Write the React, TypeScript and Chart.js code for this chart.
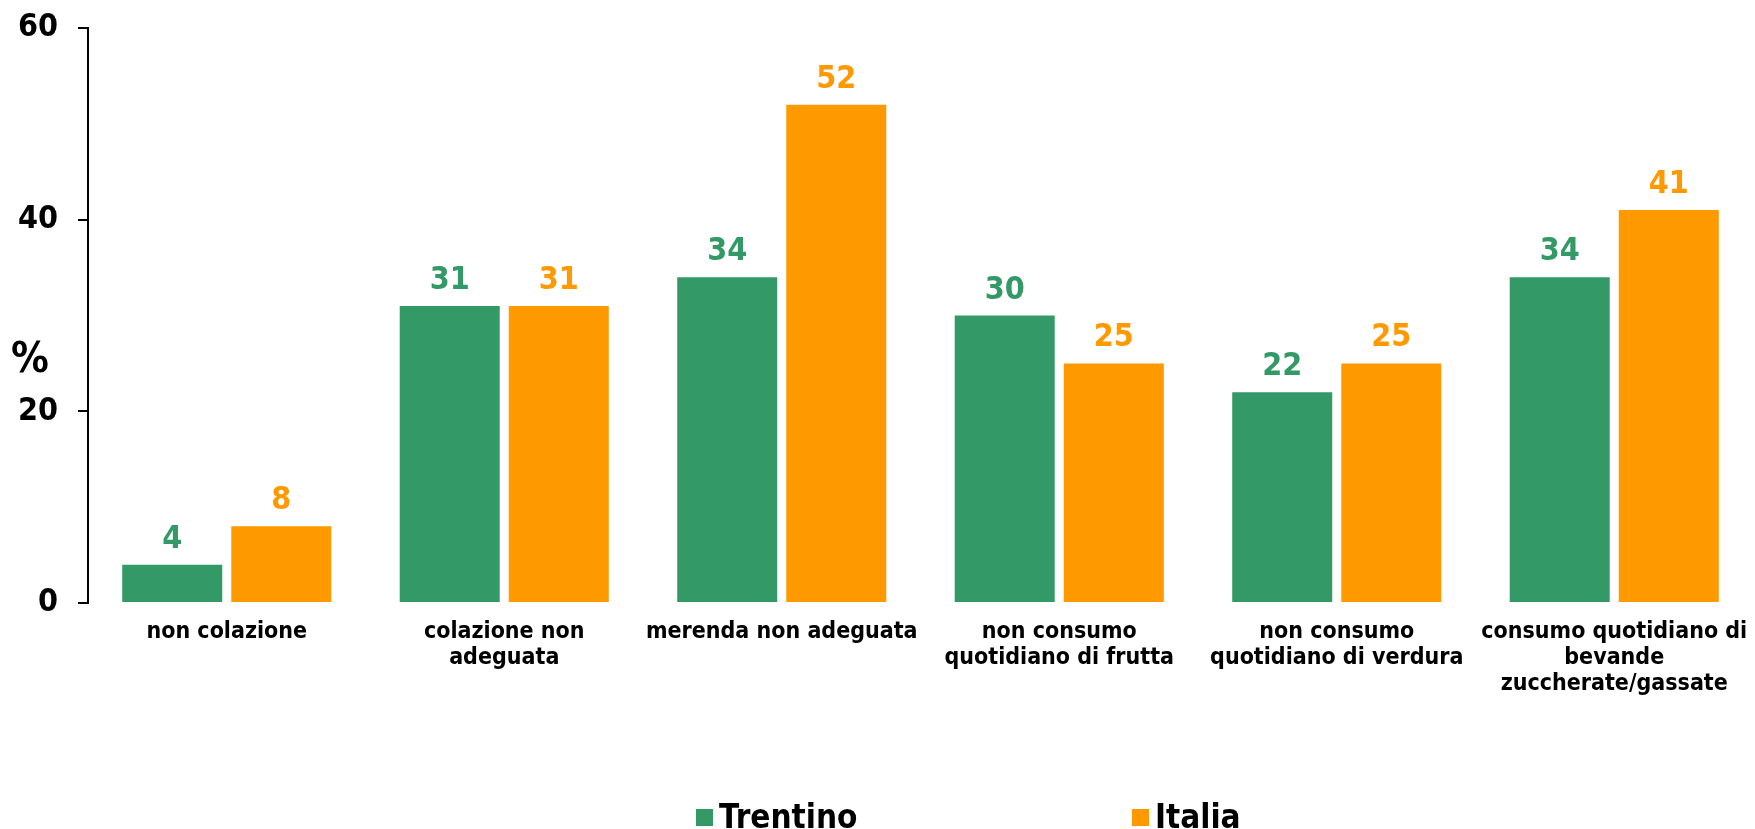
import React, { useEffect, useRef } from "react";
import { Chart, registerables } from "chart.js";

Chart.register(...registerables);

const categories: string[][] = [
  ["non colazione"],
  ["colazione non", "adeguata"],
  ["merenda non adeguata"],
  ["non consumo", "quotidiano di frutta"],
  ["non consumo", "quotidiano di verdura"],
  ["consumo quotidiano di", "bevande", "zuccherate/gassate"],
];
const trentino = [4, 31, 34, 30, 22, 34];
const italia = [8, 31, 52, 25, 25, 41];
const seriesNames = ["Trentino", "Italia"];
const yTicks = [0, 20, 40, 60];
const yUnit = "%";

const GREEN = "#339966";
const ORANGE = "#FF9900";
const FONT = "'DejaVu Sans Condensed', 'DejaVu Sans', Verdana, sans-serif";

const dataLabelPlugin = {
  id: "dataLabels",
  afterDatasetsDraw(chart: any) {
    const ctx = chart.ctx;
    ctx.save();
    ctx.font = `bold 32px ${FONT}`;
    ctx.textAlign = "center";
    ctx.textBaseline = "alphabetic";
    chart.data.datasets.forEach((ds: any, di: number) => {
      const meta = chart.getDatasetMeta(di);
      ctx.fillStyle = ds.backgroundColor;
      meta.data.forEach((el: any, i: number) => {
        ctx.fillText(String(ds.data[i]), el.x, el.y - 17);
      });
    });
    ctx.restore();
  },
};

const unitPlugin = {
  id: "unitLabel",
  afterDraw(chart: any) {
    const ctx = chart.ctx;
    const y = chart.scales.y;
    const py = y.top + (y.bottom - y.top) * 0.58;
    ctx.save();
    ctx.font = `bold 42px ${FONT}`;
    ctx.fillStyle = "#000";
    ctx.textAlign = "center";
    ctx.textBaseline = "middle";
    ctx.fillText(yUnit, 30, py);
    ctx.restore();
  },
};

const legendPlugin = {
  id: "customLegend",
  afterDraw(chart: any) {
    const ctx = chart.ctx;
    const starts = [696, 1132];
    const baseY = 828;
    ctx.save();
    ctx.font = `bold 33px ${FONT}`;
    ctx.textAlign = "left";
    ctx.textBaseline = "alphabetic";
    chart.data.datasets.forEach((ds: any, i: number) => {
      const x = starts[i];
      ctx.fillStyle = ds.backgroundColor;
      ctx.fillRect(x, 809, 17, 17);
      ctx.fillStyle = "#000";
      ctx.fillText(ds.label, x + 23, baseY);
    });
    ctx.restore();
  },
};

export default function App() {
  const ref = useRef<HTMLCanvasElement | null>(null);

  useEffect(() => {
    if (!ref.current) return;
    const chart = new Chart(ref.current, {
      type: "bar",
      data: {
        labels: categories,
        datasets: [
          {
            label: seriesNames[0],
            data: trentino,
            backgroundColor: GREEN,
            categoryPercentage: 0.786,
            barPercentage: 0.917,
          },
          {
            label: seriesNames[1],
            data: italia,
            backgroundColor: ORANGE,
            categoryPercentage: 0.786,
            barPercentage: 0.917,
          },
        ],
      },
      options: {
        responsive: false,
        animation: false,
        devicePixelRatio: 1,
        layout: { padding: { top: 28, right: 2, bottom: 0, left: 0 } },
        plugins: {
          legend: { display: false },
          tooltip: { enabled: false },
        },
        scales: {
          x: {
            grid: { display: false, drawTicks: false },
            border: { display: false },
            ticks: {
              autoSkip: false,
              maxRotation: 0,
              minRotation: 0,
              padding: 16,
              color: "#000",
              font: { family: FONT, size: 23, weight: "bold", lineHeight: 1.13 },
            },
            afterFit(scale: any) {
              scale.height = 226;
              scale.paddingLeft = 0;
              scale.paddingRight = 0;
            },
          },
          y: {
            min: yTicks[0],
            max: yTicks[yTicks.length - 1],
            afterBuildTicks(scale: any) {
              scale.ticks = yTicks.map((v) => ({ value: v }));
            },
            grid: {
              display: true,
              drawOnChartArea: false,
              drawTicks: true,
              tickLength: 10,
              color: "#000",
              lineWidth: 2,
            },
            border: { display: true, color: "#000", width: 2 },
            ticks: {
              padding: 20,
              color: "#000",
              font: { family: FONT, size: 32, weight: "bold" },
            },
            afterFit(scale: any) {
              scale.width = 88;
              scale.paddingTop = 0;
              scale.paddingBottom = 0;
            },
          },
        },
      },
      plugins: [dataLabelPlugin, unitPlugin, legendPlugin],
    } as any);
    return () => chart.destroy();
  }, []);

  return (
    <div style={{ position: "absolute", left: 0, top: 0, width: 1755, height: 829, background: "#fff" }}>
      <canvas ref={ref} width={1755} height={829} style={{ display: "block" }} />
    </div>
  );
}
